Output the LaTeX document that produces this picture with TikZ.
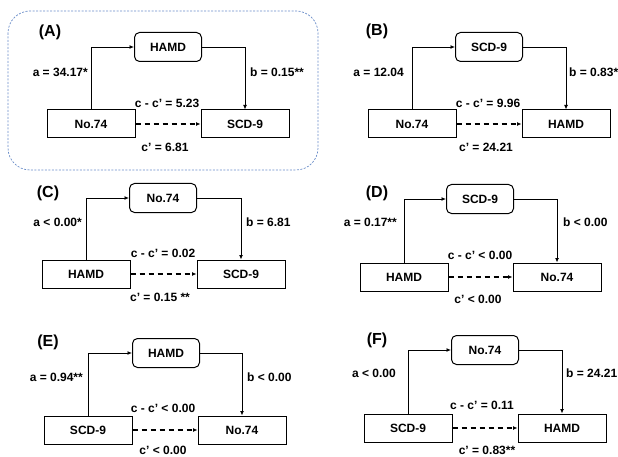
\documentclass[tikz,border=0pt]{standalone}
\usepackage{fontspec}
\setmainfont{Liberation Sans}
\definecolor{framblue}{RGB}{105, 140, 200}
\usepackage{tikz}
\usetikzlibrary{arrows.meta, positioning, calc}

\tikzset{
  varbox/.style={draw, line width=1pt, minimum width=88pt, minimum height=28pt, font=\bfseries\fontsize{12}{14}\selectfont},
  medbox/.style={draw, line width=1pt, rounded corners=5pt, minimum width=67pt, minimum height=29pt, font=\bfseries\fontsize{12}{14}\selectfont},
  coef/.style={font=\bfseries\fontsize{12}{14}\selectfont, inner sep=1pt},
  panel/.style={font=\bfseries\fontsize{16}{18}\selectfont, inner sep=0pt},
  path/.style={line width=0.9pt, -{Latex[length=4.5pt, width=4pt]}},
  direct/.style={path, line width=1.1pt, dash pattern=on 5pt off 4pt}
}

\begin{document}
\begin{tikzpicture}[x=1pt, y=-1pt]
  \useasboundingbox (0,0) rectangle (618,457);
  \draw[framblue, line width=0.7pt, dash pattern=on 2pt off 1.5pt, rounded corners=22pt] (8,11) rectangle (318,170);

  % (A)
  \node[panel] (A-lab) at (50,32) {(A)};
  \node[varbox] (A-x) at (91,124) {No.74};
  \node[medbox] (A-m) at (168,47) {HAMD};
  \node[varbox] (A-y) at (245,124) {SCD-9};
  \draw[path] (A-x.north) |- (A-m.west);
  \draw[path] (A-m.east) -| (A-y.north);
  \draw[direct] (A-x) -- (A-y);
  \node[coef, anchor=east] (A-a) at (89,72) {a = 34.17*};
  \node[coef, anchor=west] (A-b) at (249,72) {b = 0.15**};
  \node[coef] (A-cc) at (167,103) {c - c’ = 5.23};
  \node[coef] (A-c) at (165,147) {c’ = 6.81};

  % (B)
  \node[panel] (B-lab) at (377,31) {(B)};
  \node[varbox] (B-x) at (412,124) {No.74};
  \node[medbox] (B-m) at (489,47) {SCD-9};
  \node[varbox] (B-y) at (566,124) {HAMD};
  \draw[path] (B-x.north) |- (B-m.west);
  \draw[path] (B-m.east) -| (B-y.north);
  \draw[direct] (B-x) -- (B-y);
  \node[coef, anchor=east] (B-a) at (405,72) {a = 12.04};
  \node[coef, anchor=west] (B-b) at (568,72) {b = 0.83*};
  \node[coef] (B-cc) at (488,103) {c - c’ = 9.96};
  \node[coef] (B-c) at (486,147) {c’ = 24.21};

  % (C)
  \node[panel] (C-lab) at (48,193) {(C)};
  \node[varbox] (C-x) at (86,274) {HAMD};
  \node[medbox] (C-m) at (163,198) {No.74};
  \node[varbox] (C-y) at (241,274) {SCD-9};
  \draw[path] (C-x.north) |- (C-m.west);
  \draw[path] (C-m.east) -| (C-y.north);
  \draw[direct] (C-x) -- (C-y);
  \node[coef, anchor=east] (C-a) at (83,222) {a < 0.00*};
  \node[coef, anchor=west] (C-b) at (245,222) {b = 6.81};
  \node[coef] (C-cc) at (163,253) {c - c’ = 0.02};
  \node[coef] (C-c) at (160,297) {c’ = 0.15 **};

  % (D)
  \node[panel] (D-lab) at (377,193) {(D)};
  \node[varbox] (D-x) at (404,277) {HAMD};
  \node[medbox] (D-m) at (480,199) {SCD-9};
  \node[varbox] (D-y) at (557,277) {No.74};
  \draw[path] (D-x.north) |- (D-m.west);
  \draw[path] (D-m.east) -| (D-y.north);
  \draw[direct] (D-x) -- (D-y);
  \node[coef, anchor=east] (D-a) at (398,222) {a = 0.17**};
  \node[coef, anchor=west] (D-b) at (562,222) {b < 0.00};
  \node[coef] (D-cc) at (480,255) {c - c’ < 0.00};
  \node[coef] (D-c) at (478,299) {c’ < 0.00};

  % (E)
  \node[panel] (E-lab) at (48,342) {(E)};
  \node[varbox] (E-x) at (88,430) {SCD-9};
  \node[medbox] (E-m) at (166,353) {HAMD};
  \node[varbox] (E-y) at (242,430) {No.74};
  \draw[path] (E-x.north) |- (E-m.west);
  \draw[path] (E-m.east) -| (E-y.north);
  \draw[direct] (E-x) -- (E-y);
  \node[coef, anchor=east] (E-a) at (84,377) {a = 0.94**};
  \node[coef, anchor=west] (E-b) at (246,377) {b < 0.00};
  \node[coef] (E-cc) at (163,408) {c - c’ < 0.00};
  \node[coef] (E-c) at (163,450) {c’ < 0.00};

  % (F)
  \node[panel] (F-lab) at (377,340) {(F)};
  \node[varbox] (F-x) at (408,428) {SCD-9};
  \node[medbox] (F-m) at (485,350) {No.74};
  \node[varbox] (F-y) at (562,428) {HAMD};
  \draw[path] (F-x.north) |- (F-m.west);
  \draw[path] (F-m.east) -| (F-y.north);
  \draw[direct] (F-x) -- (F-y);
  \node[coef, anchor=east] (F-a) at (397,373) {a < 0.00};
  \node[coef, anchor=west] (F-b) at (565,373) {b = 24.21};
  \node[coef] (F-cc) at (482,405) {c - c’ = 0.11};
  \node[coef] (F-c) at (487,450) {c’ = 0.83**};
\end{tikzpicture}
\end{document}
